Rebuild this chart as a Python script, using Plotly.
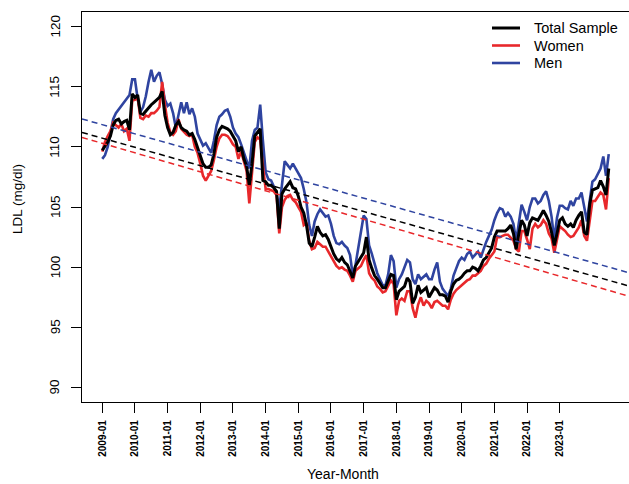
import plotly.graph_objects as go

# ---------------- data (monthly means) ----------------
total_sample = [
    109.7, 110.0, 110.4, 110.9, 111.8, 112.2, 112.3, 111.9, 112.1, 112.2, 111.4, 114.4,
    114.1, 114.3, 112.8, 112.7, 113.0, 113.2, 113.5, 113.7, 113.9, 114.1, 114.6, 112.6,
    111.6, 111.0, 111.2, 111.8, 112.1, 111.6, 111.4, 111.3, 111.0, 111.1,
    110.6, 109.9, 109.3, 108.6, 108.3, 108.3, 108.5, 109.4, 110.8, 111.4, 111.7, 111.6,
    111.5, 111.3, 110.9, 110.5, 109.6, 110.0, 109.0, 108.4, 106.8, 108.6, 110.9, 111.2,
    111.5, 107.2, 107.1, 106.8, 106.8, 106.6, 106.3, 103.2, 106.1, 106.5, 106.8, 107.1, 106.6,
    106.5, 105.9, 105.0, 104.5, 103.5, 102.0, 101.7, 102.5, 103.4, 102.9, 102.6, 102.7,
    102.3, 101.7, 101.1, 100.7, 100.5, 100.8, 100.4, 100.2, 99.7, 99.1, 100.1, 100.5,
    100.9, 101.2, 102.5, 100.6, 99.9, 99.3, 99.0, 98.6, 98.3, 98.3, 98.8, 99.4, 99.3,
    97.3, 98.0, 98.2, 98.4, 99.1, 98.8, 97.0, 97.5, 98.5, 97.9, 98.1, 98.3,
    97.5, 97.9, 98.3, 98.1, 97.7, 97.7, 97.6, 97.1, 98.0, 98.6, 98.9, 99.0,
    99.2, 99.5, 99.7, 99.7, 100.0, 99.9, 99.7, 100.1, 100.6, 100.8, 101.2, 101.6, 102.5,
    103.0, 103.0, 103.0, 103.0, 103.2, 103.5, 102.8, 101.5, 102.8, 103.9, 103.5, 102.6,
    103.7, 104.1, 104.0, 103.9, 104.3, 104.7, 104.3, 103.8, 102.9, 101.8, 102.8, 103.9,
    104.1, 103.6, 103.4, 103.6, 103.3, 103.9, 104.3, 104.6, 102.9, 102.7, 105.2, 106.4,
    106.5, 106.6, 107.2, 106.7, 106.0, 108.2,
]

women = [
    109.6, 110.4, 110.9, 111.3, 112.0, 111.8, 111.6, 111.9, 111.3, 111.5, 110.5, 113.85,
    113.9, 114.1, 112.4, 112.3, 112.6, 112.5, 112.8, 112.8, 113.0, 113.3, 115.4, 113.5,
    112.0, 111.2, 111.0, 111.3, 112.3, 111.5, 111.2, 111.0, 110.9, 111.0,
    110.0, 109.5, 108.6, 107.6, 107.2, 107.6, 108.0, 108.9, 110.0, 110.7, 111.0, 111.0,
    110.9, 110.6, 110.2, 110.0, 109.0, 109.6, 108.8, 108.0, 105.3, 107.8, 110.4, 110.8,
    110.6, 108.4, 106.5, 106.5, 106.4, 106.3, 106.0, 102.8, 105.0, 105.6, 105.9, 106.0, 105.6,
    105.4, 105.0, 104.6, 103.5, 103.7, 102.2, 101.5, 101.6, 102.1, 101.9, 101.7, 101.7,
    101.3, 100.9, 100.4, 100.1, 99.9, 100.0, 99.8, 99.7, 99.3, 98.8, 99.7, 99.9,
    100.1, 100.6, 101.0, 99.5, 99.1, 98.9, 98.4, 98.2, 97.9, 98.0, 98.4, 98.9, 98.6,
    96.0, 97.2, 97.4, 97.2, 98.0, 98.0, 96.6, 95.8, 96.9, 97.5, 96.8, 97.2,
    97.0, 96.6, 97.1, 97.2, 97.0, 96.8, 96.8, 96.5, 97.3, 97.8, 98.1, 98.3,
    98.5, 98.7, 98.9, 99.0, 99.3, 99.3, 99.5, 99.7, 100.1, 100.3, 100.7, 101.0, 101.3,
    102.5, 102.5, 102.6, 102.7, 102.7, 102.4, 102.2, 101.5, 101.3, 103.0, 103.0, 102.3,
    101.5, 103.2, 103.6, 103.3, 103.5, 103.9, 103.6, 102.8, 102.4, 101.2, 102.3, 103.4,
    103.2, 103.0, 102.7, 102.5, 102.6, 103.0, 103.3, 103.9, 102.6, 102.2, 104.0, 105.5,
    105.5, 105.9, 106.2, 106.0, 104.8, 107.4,
]

men = [
    109.0, 109.3, 110.0, 111.2, 112.3, 112.8, 113.1, 113.4, 113.7, 113.9, 114.3, 115.6,
    115.6, 114.0, 112.9, 113.3, 114.2, 115.4, 116.4, 115.4, 115.9, 116.2, 115.2, 113.9,
    113.4, 113.6, 112.8, 111.6, 112.8, 113.7, 112.8, 113.7, 112.7, 113.2,
    112.5, 111.1, 110.6, 110.1, 110.3, 109.9, 109.5, 110.5, 111.8, 112.5, 112.7, 113.0,
    113.1, 112.5, 111.6, 111.1, 110.8, 110.2, 109.5, 108.8, 108.2, 110.5, 111.4, 111.6,
    113.5, 110.5, 107.9, 107.3, 107.2, 106.7, 106.1, 104.9, 107.0, 108.8, 108.5, 108.2, 108.6,
    108.2, 107.9, 107.4, 106.5, 105.4, 103.5, 102.6, 103.8, 104.4, 104.8, 104.5, 104.2,
    104.3, 103.6, 102.6, 102.0, 101.9, 102.1, 101.8, 101.6, 101.0, 99.3, 100.2, 101.6,
    102.7, 104.3, 104.0, 101.8, 101.1, 100.2, 99.5, 99.0, 98.5, 98.5, 99.4, 101.0, 100.5,
    98.3, 99.0, 99.4, 100.0, 100.6, 100.4, 99.0, 98.6, 99.4, 99.0, 99.2, 99.4,
    99.0, 99.0, 99.8, 100.4, 98.8, 98.2, 97.9, 97.6, 98.2, 99.3, 99.9, 100.5,
    100.8, 100.6, 101.1, 101.3, 100.8, 101.1, 101.3, 100.8, 101.5, 102.1, 102.6, 103.1, 103.9,
    104.5, 104.9, 104.8, 104.2, 104.5, 104.2, 103.6, 102.2, 103.6, 105.2, 104.6, 103.9,
    105.0, 105.7, 105.7, 105.3, 105.5, 106.0, 106.3, 105.5, 104.2, 102.3, 104.1, 105.1,
    105.1, 104.9, 104.8, 105.5, 105.1, 105.7, 105.7, 106.2, 105.0, 103.8, 105.5, 107.1,
    107.3, 107.8, 108.2, 109.2, 107.6, 109.4,
]

# linear trends (value at first month, change per month)
trend_total = (110.72, -0.0635)
trend_women = (110.29, -0.0657)
trend_men = (111.84, -0.0636)

tick_labels = ["2009-01", "2010-01", "2011-01", "2012-01", "2013-01", "2014-01", "2015-01",
               "2016-01", "2017-01", "2018-01", "2019-01", "2020-01", "2021-01", "2022-01",
               "2023-01"]
y_ticks = [90, 95, 100, 105, 110, 115, 120]
legend_names = ["Total Sample", "Women", "Men"]

# ---------------- figure ----------------
W, H = 629, 484
ML, MR, MT, MB = 82, 0, 12, 82
PW, PH = W - ML - MR, H - MT - MB


def px(xp):
    return (xp - ML) / PW


def py(yp):
    return (H - MB - yp) / PH


n = len(total_sample)
x = list(range(n))
pad = 0.04 * (n - 1)
x_range = [-pad, (n - 1) + pad]

BLACK = "#000000"
RED = "#E8282B"
BLUE = "#2F44A0"
FONT = "Liberation Sans, Arial, Helvetica, sans-serif"

fig = go.Figure()

series = [("Men", men, BLUE, 2.6), ("Women", women, RED, 2.6), ("Total Sample", total_sample, BLACK, 3.0)]
for name, vals, col, w in series:
    fig.add_trace(go.Scatter(x=x, y=vals, mode="lines", name=name,
                             line=dict(color=col, width=w), showlegend=False))

for (b0, b1), col in [(trend_men, BLUE), (trend_total, BLACK), (trend_women, RED)]:
    fig.add_trace(go.Scatter(x=x_range, y=[b0 + b1 * v for v in x_range], mode="lines",
                             line=dict(color=col, width=1.5, dash="6px,4px"),
                             showlegend=False, hoverinfo="skip"))

# legend (drawn as in the reference: short line + label)
shapes, annotations = [], []
leg_cols = {"Total Sample": (BLACK, 3.0), "Women": (RED, 2.6), "Men": (BLUE, 2.6)}
for k, name in enumerate(legend_names):
    yy = 28 + 17.5 * k
    col, w = leg_cols[name]
    shapes.append(dict(type="line", xref="paper", yref="paper", x0=px(492), x1=px(520),
                       y0=py(yy), y1=py(yy), line=dict(color=col, width=w)))
    annotations.append(dict(text=name, x=px(532), y=py(yy), xref="paper", yref="paper",
                            showarrow=False, xanchor="left", yanchor="middle",
                            font=dict(size=14.5, family=FONT, color="black")))

# y tick labels, vertical (R style), placed on the y scale
for v in y_ticks:
    annotations.append(dict(text=str(v), x=px(55), y=v, xref="paper", yref="y",
                            showarrow=False, xanchor="center", yanchor="middle", textangle=-90,
                            font=dict(size=13.5, family=FONT, color="black")))

annotations += [
    dict(text="Year-Month", x=px(342.5), y=py(474), xref="paper", yref="paper",
         showarrow=False, xanchor="center", yanchor="middle", font=dict(size=14, family=FONT)),
    dict(text="LDL (mg/dl)", x=px(18), y=py(199), xref="paper", yref="paper",
         showarrow=False, xanchor="center", yanchor="middle", textangle=-90,
         font=dict(size=13.5, family=FONT)),
]

fig.update_layout(
    template="none",
    width=W, height=H,
    margin=dict(l=ML, r=MR, t=MT, b=MB, pad=0),
    paper_bgcolor="white", plot_bgcolor="white",
    font=dict(family=FONT, color="black"),
    showlegend=False,
    shapes=shapes,
    annotations=annotations,
)

fig.update_xaxes(range=x_range, tickmode="array", tickvals=[12 * k for k in range(len(tick_labels))],
                 ticktext=tick_labels, tickangle=-90, tickfont=dict(size=10, family=FONT, weight="bold"),
                 ticks="outside", ticklen=10, tickcolor="black", tickwidth=1,
                 showline=True, linecolor="black", linewidth=1.2, mirror=True,
                 showgrid=False, zeroline=False, automargin=False, ticklabelstandoff=3)
fig.update_yaxes(range=[88.8, 121.2], tickmode="array", tickvals=y_ticks, showticklabels=False,
                 ticks="outside", ticklen=10, tickcolor="black", tickwidth=1,
                 showline=True, linecolor="black", linewidth=1.2, mirror=False,
                 showgrid=False, zeroline=False, automargin=False)

fig.write_html("out.html", config={"displayModeBar": False},
               post_script="document.body.style.margin='0px';document.body.style.overflow='hidden';")
